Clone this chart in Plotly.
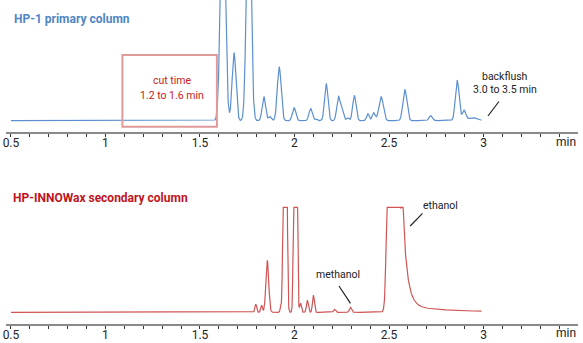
import numpy as np
import plotly.graph_objects as go

W, H = 583, 343

# ---------------- data ----------------
# HP-1 primary column: peak retention times (min), heights (a.u.), widths (sigma, min)
hp1_times   = [1.621, 1.680, 1.758, 1.838, 1.870, 1.919, 1.998, 2.086, 2.115, 2.168,
               2.233, 2.252, 2.280, 2.317, 2.388, 2.419, 2.458, 2.584, 2.721, 2.861,
               2.897, 2.945]
hp1_heights = [230, 68, 260, 24, 4, 54, 13, 12, 2, 37,
               24, 10, 3, 25, 7, 8, 24, 31, 5, 40,
               10, 3]
hp1_sigmas  = [0.0125, 0.0100, 0.0115, 0.0090, 0.007, 0.0100, 0.0090, 0.0090, 0.006, 0.0090,
               0.0090, 0.007, 0.007, 0.0090, 0.007, 0.008, 0.0115, 0.0105, 0.009, 0.0100,
               0.009, 0.025]

# HP-INNOWax secondary column
wax_times   = [1.795, 1.826, 1.856, 1.928, 1.950, 2.005, 2.032, 2.068, 2.100, 2.212, 2.296, 2.524]
wax_heights = [8, 7, 52, 5, 800, 800, 9, 12, 17, 3, 5, 3000]
wax_sigmas  = [0.0045, 0.0045, 0.0075, 0.0040, 0.0062, 0.0058, 0.0045, 0.0050, 0.0050, 0.0050, 0.0055, 0.0145]
# ethanol tailing (start time, amplitude, decay constant)
wax_tail_start = [2.562, 2.562, 2.562]
wax_tail_amp   = [150, 20, 6]
wax_tail_tau   = [0.020, 0.040, 0.25]
wax_saturation = 105   # detector saturation level (flat-topped peaks)

run_start, run_end = 0.5, 2.99
major_ticks = [0.5, 1, 1.5, 2, 2.5, 3]
major_labels = ["0.5", "1", "1.5", "2", "2.5", "3"]

# ---------------- build traces ----------------
t = np.arange(run_start, run_end + 1e-9, 0.0008)

def chrom(times, heights, sigmas):
    y = np.zeros_like(t)
    for c, h, s in zip(times, heights, sigmas):
        y += h * np.exp(-0.5 * ((t - c) / s) ** 2)
    return y

y1 = chrom(hp1_times, hp1_heights, hp1_sigmas)
y2 = chrom(wax_times, wax_heights, wax_sigmas)
for t0, a, tau in zip(wax_tail_start, wax_tail_amp, wax_tail_tau):
    y2 += np.where(t >= t0, a * np.exp(-(t - t0) / tau), 0.0)
y2 = np.minimum(y2, wax_saturation)

fig = go.Figure()
fig.add_trace(go.Scatter(x=t, y=y1, mode="lines", line=dict(color="#5b8fd0", width=1.2),
                         xaxis="x", yaxis="y", hoverinfo="skip", showlegend=False))
fig.add_trace(go.Scatter(x=t, y=y2, mode="lines", line=dict(color="#d05454", width=1.2),
                         xaxis="x2", yaxis="y2", hoverinfo="skip", showlegend=False))

def px(x):
    return x / W

def py(y):
    return 1 - y / H

x_dom = [px(3), px(578)]
x_rng = [0.4737, 3.5]
font_fam = "Roboto, Arial, sans-serif"

xcommon = dict(
    domain=x_dom, range=x_rng, showgrid=False, zeroline=False,
    showline=True, linecolor="#8a8a8a", linewidth=2,
    ticks="outside", ticklen=3, tickwidth=1, tickcolor="#333333",
    tickmode="array", tickvals=major_ticks, ticktext=major_labels,
    tickfont=dict(family=font_fam, size=12, color="#222222"),
    ticklabeloverflow="allow", ticklabelstandoff=-4,
    minor=dict(ticks="outside", ticklen=3, tickwidth=1, tickcolor="#333333",
               tickmode="array", tickvals=[round(0.5 + 0.1 * i, 1) for i in range(30)]),
    fixedrange=True,
)

fig.update_layout(
    width=W, height=H, margin=dict(l=0, r=0, t=0, b=0),
    paper_bgcolor="white", plot_bgcolor="white",
    xaxis=dict(anchor="y", **xcommon),
    xaxis2=dict(anchor="y2", **xcommon),
    yaxis=dict(domain=[py(131.5), 1], range=[-10.8, 120.7], visible=False, fixedrange=True),
    yaxis2=dict(domain=[py(323.5), py(195)], range=[-11.2, 117.3], visible=False, fixedrange=True),
)

ann = []
def text(x, y, s, size=10.5, color="#222222", bold=False, xanchor="center"):
    ann.append(dict(x=px(x), y=py(y), xref="paper", yref="paper", text=(f"<b>{s}</b>" if bold else s),
                    showarrow=False, xanchor=xanchor, yanchor="middle",
                    font=dict(family=font_fam, size=size, color=color)))

text(9, 19, "HP-1 primary column", size=12, color="#4f86c6", bold=True, xanchor="left")
text(8, 198, "HP-INNOWax secondary column", size=12, color="#c0141c", bold=True, xanchor="left")
text(170, 81, "cut time", color="#cc2020")
text(170, 95, "1.2 to 1.6 min", color="#cc2020")
text(505, 76, "backflush")
text(505, 90, "3.0 to 3.5 min")
text(337, 274, "methanol")
text(440, 205, "ethanol")
text(566, 142, "min", size=12, color="#222222")
text(566, 333, "min", size=12, color="#222222")
fig.update_layout(annotations=ann)

shapes = [
    dict(type="rect", xref="paper", yref="paper", x0=px(120), x1=px(215), y0=py(126.7), y1=py(55),
         line=dict(color="#e09a9a", width=2), fillcolor="rgba(0,0,0,0)"),
    dict(type="line", xref="paper", yref="paper", x0=px(487.5), y0=py(116), x1=px(498.5), y1=py(101.5),
         line=dict(color="#222222", width=1.2)),
    dict(type="line", xref="paper", yref="paper", x0=px(337.7), y0=py(286), x1=px(349.3), y1=py(303.3),
         line=dict(color="#222222", width=1.2)),
    dict(type="line", xref="paper", yref="paper", x0=px(409.3), y0=py(226), x1=px(421.7), y1=py(213.3),
         line=dict(color="#222222", width=1.2)),
]
fig.update_layout(shapes=shapes)

fig.write_html("out.html")
